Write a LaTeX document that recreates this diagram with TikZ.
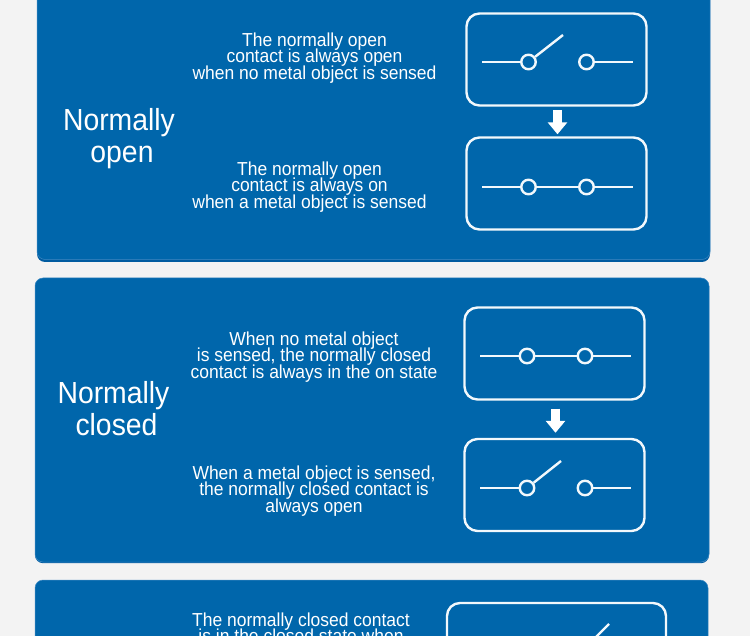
\documentclass[tikz,border=0pt]{standalone}
\usepackage{fontspec}
\setmainfont{Liberation Sans}
\newfontfamily\tightfont[FakeStretch=0.93]{Liberation Sans}
\usetikzlibrary{arrows.meta}
\normallineskiplimit=-20pt
\lineskiplimit=-20pt
\definecolor{panelblue}{HTML}{0066AB}
\definecolor{paneldark}{HTML}{005BA0}
\definecolor{paneledge}{HTML}{3F8AC4}
\definecolor{pagegrey}{HTML}{F3F3F3}
\definecolor{wirewhite}{HTML}{F2F8FC}
\tikzset{
  panel/.style={rectangle,rounded corners=8pt,fill=panelblue,draw=paneledge,line width=.5pt,inner sep=0pt,minimum width=#1},
  panelshade/.style={rectangle,rounded corners=8pt,fill=paneldark,inner sep=0pt,minimum width=#1},
  swbox/.style={rectangle,rounded corners=13pt,draw=wirewhite,line width=2.4pt,inner sep=0pt,minimum width=180pt,minimum height=92pt},
  term/.style={circle,draw=wirewhite,line width=2.4pt,inner sep=0pt,minimum size=14.5pt},
  wire/.style={draw=wirewhite,line width=2.4pt},
  blockarrow/.style={draw=white,line width=9.5pt,-{Triangle[width=19pt,length=12pt]}},
  desc/.style={text=white,align=center,inner sep=0pt,font=\tightfont\fontsize{18.8}{16.6}\selectfont},
  title/.style={text=white,align=center,inner sep=0pt,font=\tightfont\fontsize{30.5}{32}\selectfont},
}
\begin{document}
\begin{tikzpicture}[x=1pt,y=-1pt]
\useasboundingbox (0,0) rectangle (750,636);
\clip (0,0) rectangle (750,636);
\fill[pagegrey] (0,0) rectangle (750,636);
% panels
\node[panelshade=673pt,minimum height=273pt] (p1s) at (373.5,125.5) {};
\node[panel=673pt,minimum height=271pt] (p1) at (373.5,124) {};
\node[panelshade=674pt,minimum height=285pt] (p2s) at (372,420.7) {};
\node[panel=674pt,minimum height=284pt] (p2) at (372,420) {};
\node[panel=673pt,minimum height=120pt] (p3) at (371.5,640) {};
% panel 1
\node[title] (t1) at (119,139) {Normally\\\hspace*{6pt}open};
\node[desc] (d1a) at (314.5,58) {The normally open\\contact is always open\\when no metal object is sensed};
\node[desc] (d1b) at (309.5,187) {The normally open\\contact is always on\\when a metal object is sensed};
\node[swbox] (b1a) at (556.5,59.5) {};
\node[swbox] (b1b) at (556.5,183.5) {};
\node[term] (c1a) at (528.5,62) {};
\node[term] (c1b) at (586.5,62) {};
\coordinate (w1a) at (482,62); \coordinate (w1b) at (633,62); \coordinate (tip1) at (563,35);
\draw[wire] (w1a) -- (c1a); \draw[wire] (c1b) -- (w1b); \draw[wire] (c1a) -- (tip1);
\node[term] (c1c) at (528.5,187) {};
\node[term] (c1d) at (586.5,187) {};
\coordinate (w1c) at (482,187); \coordinate (w1d) at (633,187);
\draw[wire] (w1c) -- (c1c) (c1c) -- (c1d) (c1d) -- (w1d);
\draw[blockarrow] (b1a.south) ++(1,3.5) coordinate (a1s) (b1b.north) ++(1,-2) coordinate (a1e) (a1s) -- (a1e);
% panel 2
\node[title] (t2) at (113.5,409) {Normally\\\hspace*{6pt}closed};
\node[desc] (d2a) at (314,357) {When no metal object\\is sensed, the normally closed\\contact is always in the on state};
\node[desc] (d2b) at (314,491) {When a metal object is sensed,\\the normally closed contact is\\always open};
\node[swbox] (b2a) at (554.5,353.5) {};
\node[swbox] (b2b) at (554.5,485) {};
\node[term] (c2a) at (527,356) {};
\node[term] (c2b) at (585,356) {};
\coordinate (w2a) at (480,356); \coordinate (w2b) at (631,356);
\draw[wire] (w2a) -- (c2a) (c2a) -- (c2b) (c2b) -- (w2b);
\node[term] (c2c) at (527,488) {};
\node[term] (c2d) at (585,488) {};
\coordinate (w2c) at (480,488); \coordinate (w2d) at (631,488); \coordinate (tip2) at (561,461);
\draw[wire] (w2c) -- (c2c); \draw[wire] (c2d) -- (w2d); \draw[wire] (c2c) -- (tip2);
\draw[blockarrow] (b2a.south) ++(1,8) coordinate (a2s) (b2b.north) ++(1,-5) coordinate (a2e) (a2s) -- (a2e);
% panel 3
\node[desc,anchor=north] (d3) at (301,612.5) {The normally closed contact\\is in the closed state when};
\node[swbox,minimum width=219pt,minimum height=100pt] (b3) at (556.5,653) {};
\coordinate (w3) at (575,658); \coordinate (tip3) at (609,624);
\draw[wire] (w3) -- (tip3);
\end{tikzpicture}
\end{document}
